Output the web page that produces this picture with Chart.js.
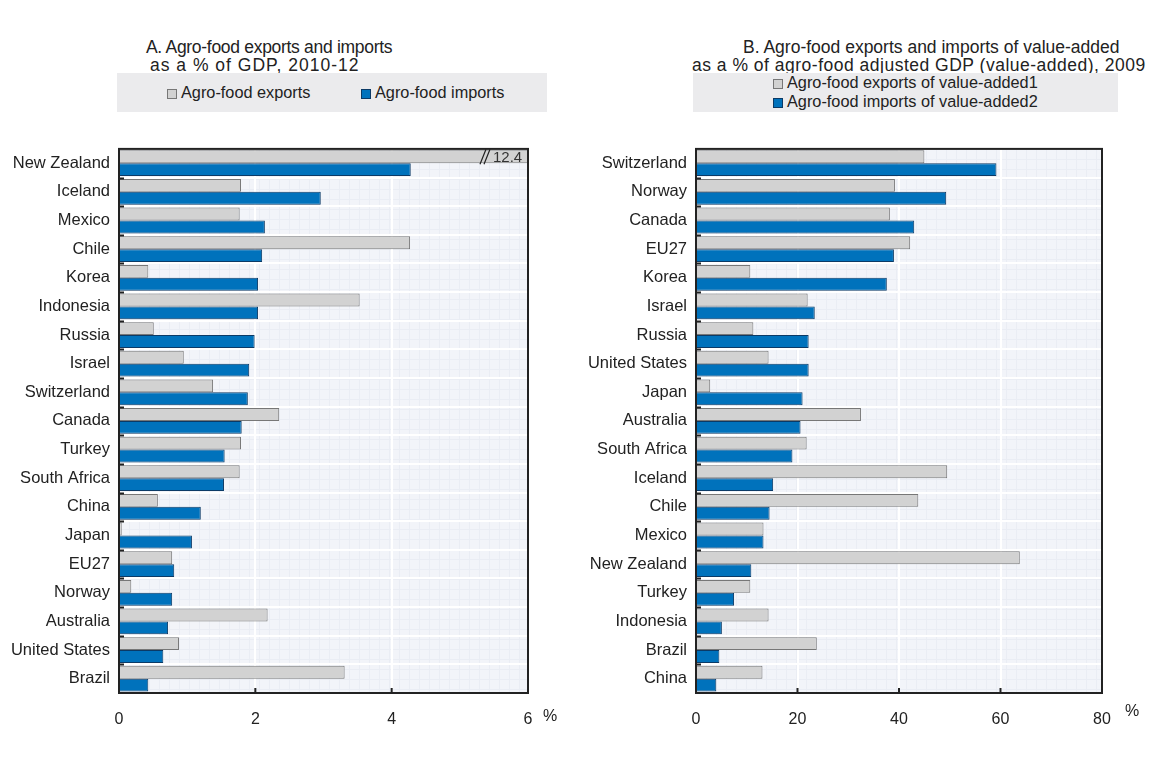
<!DOCTYPE html>
<html>
<head>
<meta charset="utf-8">
<script src="https://cdn.jsdelivr.net/npm/chart.js@4/dist/chart.umd.min.js"></script>
<style>
  body { margin: 0; background: #fff; font-family: "Liberation Sans", Arial, sans-serif; color: #222; }
  #wrap { position: relative; width: 1155px; height: 759px; overflow: hidden; }
  .title { position: absolute; font-size: 17.5px; white-space: nowrap; line-height: 18px; }
  .legend { position: absolute; background: #ebebed; font-size: 16.3px; }
  .item { position: absolute; white-space: nowrap; line-height: 18px; }
  .sw { display: inline-block; width: 10px; height: 10px; margin-right: 4px; vertical-align: -1px; box-sizing: border-box; }
  .sw.exp { background: #d2d2d2; border: 1px solid #777; }
  .sw.imp { background: #0072bc; border: 1px solid #0b3a66; }
  canvas { position: absolute; }
</style>
</head>
<body>
<div id="wrap">
  <div class="title" style="left:146px; top:38px; letter-spacing:-0.3px;">A. Agro-food exports and imports</div>
  <div class="title" style="left:150px; top:56px; letter-spacing:1px;">as a % of GDP, 2010-12</div>
  <div class="title" style="left:743px; top:38px;">B. Agro-food exports and imports of value-added</div>
  <div class="title" style="left:692px; top:56px; letter-spacing:0.5px;">as a % of agro-food adjusted GDP (value-added), 2009</div>

  <div class="legend" style="left:117px; top:73px; width:430px; height:39px;">
    <div class="item" style="left:50px; top:10px;"><span class="sw exp"></span>Agro-food exports</div>
    <div class="item" style="left:244px; top:10px;"><span class="sw imp"></span>Agro-food imports</div>
  </div>
  <div class="legend" style="left:693px; top:73px; width:425px; height:39px;">
    <div class="item" style="left:80px; top:0px;"><span class="sw exp"></span>Agro-food exports of value-added1</div>
    <div class="item" style="left:80px; top:19px;"><span class="sw imp"></span>Agro-food imports of value-added2</div>
  </div>

  <canvas id="chartA" width="577" height="629" style="left:0; top:130px;"></canvas>
  <canvas id="chartB" width="578" height="629" style="left:577px; top:130px;"></canvas>
</div>

<script>
// Panel A: agro-food trade as % of GDP, 2010-12
const countriesA = ["New Zealand", "Iceland", "Mexico", "Chile", "Korea", "Indonesia", "Russia", "Israel",
  "Switzerland", "Canada", "Turkey", "South Africa", "China", "Japan", "EU27", "Norway", "Australia",
  "United States", "Brazil"];
const exportsA = [12.4, 1.79, 1.77, 4.27, 0.43, 3.53, 0.51, 0.95, 1.38, 2.35, 1.79, 1.77, 0.57, 0.04, 0.78, 0.18, 2.18, 0.88, 3.31];
const importsA = [4.28, 2.96, 2.14, 2.10, 2.04, 2.04, 1.99, 1.91, 1.89, 1.80, 1.55, 1.54, 1.20, 1.07, 0.81, 0.78, 0.72, 0.65, 0.43];
const ticksA = [0, 2, 4, 6];

// Panel B: trade in value-added as % of agro-food adjusted GDP, 2009
const countriesB = ["Switzerland", "Norway", "Canada", "EU27", "Korea", "Israel", "Russia", "United States",
  "Japan", "Australia", "South Africa", "Iceland", "Chile", "Mexico", "New Zealand", "Turkey", "Indonesia",
  "Brazil", "China"];
const exportsB = [45.0, 39.2, 38.2, 42.2, 10.7, 22.0, 11.3, 14.3, 2.8, 32.5, 21.8, 49.5, 43.8, 13.3, 63.8, 10.7, 14.3, 23.8, 13.1];
const importsB = [59.2, 49.3, 43.0, 39.0, 37.6, 23.4, 22.2, 22.2, 21.0, 20.6, 19.0, 15.2, 14.5, 13.3, 10.9, 7.5, 5.1, 4.6, 4.0];
const ticksB = [0, 20, 40, 60, 80];

const FONT = "'Liberation Sans', Arial, sans-serif";
const GREY = "#d2d2d2", GREY_EDGE = "#777777";
const BLUE = "#0072bc", BLUE_EDGE = "#0b3a66";

// background fill, fine grid, frame and inner ticks
const framePlugin = {
  id: "frame",
  beforeDraw(chart) {
    const { ctx, chartArea: a } = chart;
    ctx.save();
    ctx.fillStyle = "#f2f4f9";
    ctx.fillRect(a.left, a.top, a.width, a.height);
    ctx.strokeStyle = "#eaedf4";
    ctx.lineWidth = 1;
    ctx.beginPath();
    for (let x = a.left + 10; x < a.right; x += 10) {
      ctx.moveTo(Math.round(x) + 0.5, a.top);
      ctx.lineTo(Math.round(x) + 0.5, a.bottom);
    }
    for (let y = a.top + 10; y < a.bottom; y += 10) {
      ctx.moveTo(a.left, Math.round(y) + 0.5);
      ctx.lineTo(a.right, Math.round(y) + 0.5);
    }
    ctx.stroke();
    ctx.restore();
  },
  afterDraw(chart, args, opts) {
    const { ctx, chartArea: a } = chart;
    const xs = chart.scales.x;
    ctx.save();
    ctx.strokeStyle = "#222";
    ctx.lineWidth = 2;
    ctx.strokeRect(a.left, a.top, a.width, a.height);
    ctx.beginPath();
    // category separators on the left edge
    const n = chart.data.labels.length;
    const step = a.height / n;
    for (let i = 1; i < n; i++) {
      const y = Math.round(a.top + i * step) + 0.5;
      ctx.moveTo(a.left, y);
      ctx.lineTo(a.left + 5, y);
    }
    // value ticks on the bottom edge
    xs.ticks.forEach(t => {
      const x = xs.getPixelForValue(t.value);
      if (x > a.left + 2 && x < a.right - 2) {
        ctx.moveTo(x, a.bottom);
        ctx.lineTo(x, a.bottom - 5);
      }
    });
    ctx.stroke();
    // unit sign
    ctx.fillStyle = "#222";
    ctx.font = "16px " + FONT;
    ctx.textAlign = "left";
    ctx.textBaseline = "middle";
    ctx.fillText("%", opts.unitX, a.bottom + opts.unitDy);
    ctx.restore();
  }
};

// axis-break marker for bars that run past the scale maximum
const breakPlugin = {
  id: "breakMark",
  afterDatasetsDraw(chart) {
    const { ctx, chartArea: a } = chart;
    const max = chart.scales.x.max;
    const meta = chart.getDatasetMeta(0);
    chart.data.datasets[0].data.forEach((v, i) => {
      if (v <= max) return;
      const bar = meta.data[i];
      const top = bar.y - bar.height / 2, bot = bar.y + bar.height / 2;
      const x0 = a.right - 48;
      ctx.save();
      ctx.strokeStyle = "#222";
      ctx.lineWidth = 1.2;
      ctx.beginPath();
      ctx.moveTo(x0, bot + 1); ctx.lineTo(x0 + 6, top - 1);
      ctx.moveTo(x0 + 4, bot + 1); ctx.lineTo(x0 + 10, top - 1);
      ctx.stroke();
      ctx.fillStyle = "#333";
      ctx.font = "15px " + FONT;
      ctx.textBaseline = "middle";
      ctx.fillText(String(v), x0 + 13, bar.y + 1);
      ctx.restore();
    });
  }
};

function makeChart(id, labels, exp, imp, ticks, padRight, unitX, unitDy) {
  return new Chart(document.getElementById(id), {
    type: "bar",
    data: {
      labels: labels,
      datasets: [
        { label: "exports", data: exp, backgroundColor: GREY, borderColor: GREY_EDGE, borderWidth: 1,
          categoryPercentage: 0.9, barPercentage: 1.0 },
        { label: "imports", data: imp, backgroundColor: BLUE, borderColor: BLUE_EDGE, borderWidth: 1,
          categoryPercentage: 0.9, barPercentage: 1.0 }
      ]
    },
    options: {
      indexAxis: "y",
      responsive: false,
      animation: false,
      layout: { padding: { top: 18, right: padRight, left: 0, bottom: 0 } },
      plugins: {
        legend: { display: false },
        tooltip: { enabled: false },
        frame: { unitX: unitX, unitDy: unitDy }
      },
      scales: {
        x: {
          min: ticks[0],
          max: ticks[ticks.length - 1],
          afterBuildTicks(scale) { scale.ticks = ticks.map(v => ({ value: v })); },
          afterFit(scale) { scale.height = 66; },
          grid: { color: "#ffffff", lineWidth: 2, drawTicks: false },
          border: { display: false },
          ticks: { color: "#222", padding: 17, font: { family: FONT, size: 16 } }
        },
        y: {
          afterFit(scale) { scale.width = 119; },
          grid: { offset: true, color: "#ffffff", lineWidth: 2, drawTicks: false },
          border: { display: false },
          ticks: { color: "#222", padding: 9, font: { family: FONT, size: 16.5 } }
        }
      }
    },
    plugins: [framePlugin, breakPlugin]
  });
}

makeChart("chartA", countriesA, exportsA, importsA, ticksA, 49, 543, 24);
makeChart("chartB", countriesB, exportsB, importsB, ticksB, 53, 548, 19);
</script>
</body>
</html>
